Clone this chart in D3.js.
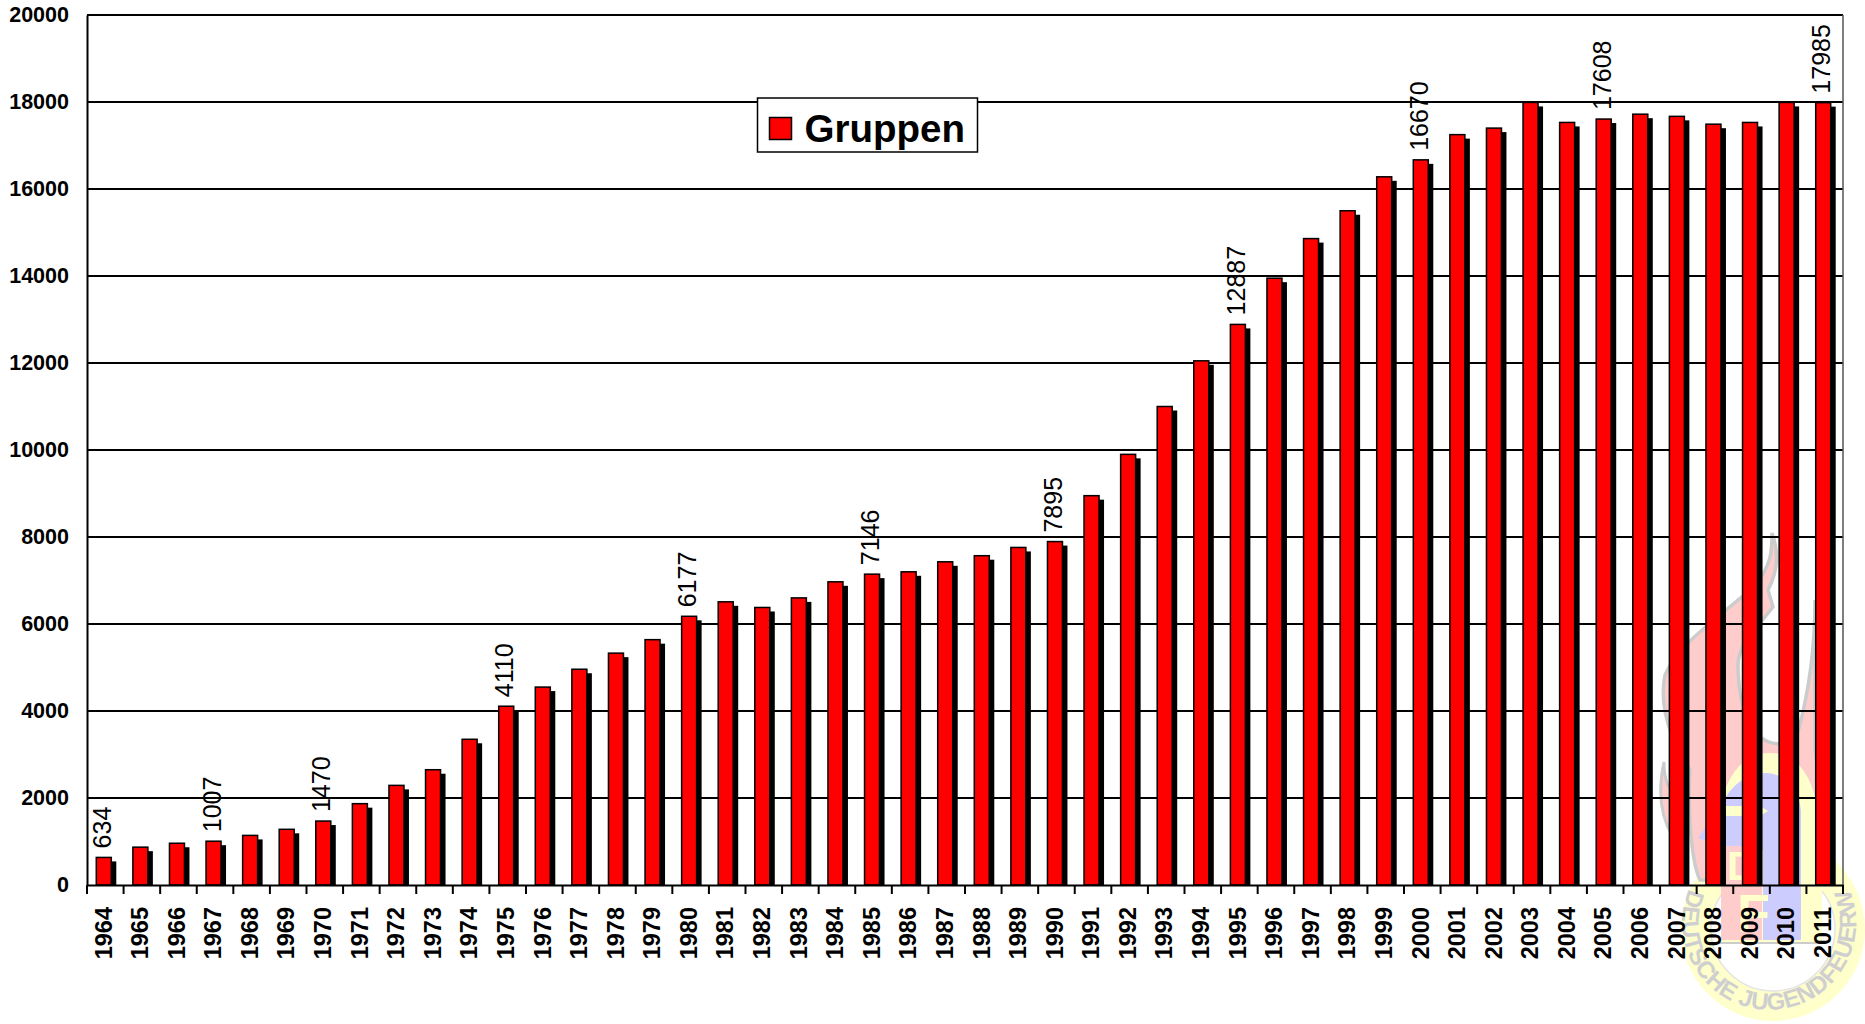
<!DOCTYPE html>
<html>
<head>
<meta charset="utf-8">
<script src="https://cdnjs.cloudflare.com/ajax/libs/d3/7.8.5/d3.min.js"></script>
<style>
  html, body { margin: 0; padding: 0; background: #fff; }
  svg { display: block; }
  text { font-family: "Liberation Sans", Arial, sans-serif; fill: #000; }
</style>
</head>
<body>
<div id="canvas"></div>
<script>
const years = [1964, 1965, 1966, 1967, 1968, 1969, 1970, 1971, 1972, 1973, 1974, 1975,
  1976, 1977, 1978, 1979, 1980, 1981, 1982, 1983, 1984, 1985, 1986, 1987,
  1988, 1989, 1990, 1991, 1992, 1993, 1994, 1995, 1996, 1997, 1998, 1999,
  2000, 2001, 2002, 2003, 2004, 2005, 2006, 2007, 2008, 2009, 2010, 2011];
const gruppen = [634, 870, 960, 1007, 1140, 1280, 1470, 1870, 2290, 2650, 3350, 4110,
  4550, 4960, 5330, 5640, 6177, 6510, 6380, 6600, 6970, 7146, 7200, 7430,
  7570, 7760, 7895, 8950, 9900, 11000, 12050, 12887, 13950, 14860, 15500, 16280,
  16670, 17250, 17400, 17990, 17530, 17608, 17720, 17670, 17490, 17530, 17990, 17985];
const labelledYears = [1964, 1967, 1970, 1975, 1980, 1985, 1990, 1995, 2000, 2005, 2011];
const yTicks = [0, 2000, 4000, 6000, 8000, 10000, 12000, 14000, 16000, 18000, 20000];

let margin = { top: 15, right: 22, bottom: 139, left: 87 },
  width = 1865 - margin.left - margin.right,
  height = 1024 - margin.top - margin.bottom;

let root = d3.select("#canvas").append("svg")
  .attr("width", 1865)
  .attr("height", 1024);

// Watermark sits behind everything, partly outside the plot
let mark = root.append("g").attr("class", "watermark");

// Ring with the lettering
mark.append("circle").attr("cx", 1773).attr("cy", 929).attr("r", 77)
  .attr("fill", "none").attr("stroke", "#ffffcc").attr("stroke-width", 30);
mark.append("circle").attr("cx", 1773).attr("cy", 929).attr("r", 62)
  .attr("fill", "none").attr("stroke", "#e4e4e4").attr("stroke-width", 1.5);
mark.append("path")
  .attr("id", "ring-text")
  .attr("fill", "none")
  .attr("d", "M1689 889 A87 87 0 1 0 1846 882");
mark.append("text")
  .style("font-size", "24px")
  .style("font-weight", "bold")
  .style("fill", "#cfcfcf")
  .append("textPath")
  .attr("href", "#ring-text")
  .text("DEUTSCHE JUGENDFEUERWEHR");

// Flame
mark.append("path")
  .attr("d", "M1772 533 C1780 555 1776 575 1768 590 L1773 607 C1755 630 1738 645 1738 665 C1738 695 1745 720 1758 735 C1770 747 1790 747 1798 732 C1808 695 1815 650 1815 600 L1815 750 L1822 800 L1800 880 L1700 880 C1690 860 1688 800 1690 770 L1672 735 C1664 715 1661 695 1665 675 C1680 640 1730 610 1755 585 C1772 565 1772 550 1772 533 Z")
  .attr("fill", "#ffcccc")
  .attr("stroke", "#cccccc")
  .attr("stroke-width", 3.5);
mark.append("path")
  .attr("d", "M1664 762 C1658 790 1660 815 1672 835 L1672 790 C1666 785 1664 775 1664 762 Z")
  .attr("fill", "#ffcccc")
  .attr("stroke", "#cccccc")
  .attr("stroke-width", 3);

// Shield
mark.append("path")
  .attr("d", "M1715 860 C1715 790 1735 753 1770 753 C1805 753 1822 790 1822 860 L1822 942 L1721 942 L1721 860 Z")
  .attr("fill", "#ffffcc");
mark.append("path")
  .attr("d", "M1722 805 C1730 785 1748 773 1765 773 C1782 773 1798 785 1801 810 L1801 940 L1763 940 L1763 850 L1721 846 L1698 838 Z")
  .attr("fill", "#ccccff");
mark.append("rect").attr("x", 1721).attr("y", 846).attr("width", 41).attr("height", 94)
  .attr("fill", "#ffcccc");
mark.append("line").attr("x1", 1720).attr("x2", 1823).attr("y1", 943).attr("y2", 943)
  .attr("stroke", "#cccccc").attr("stroke-width", 2);
mark.append("path")
  .attr("d", "M1725 806 L1760 806 L1768 811 L1760 816 L1725 816 Z")
  .attr("fill", "#ffffcc");
mark.append("text")
  .attr("x", 1727).attr("y", 880)
  .style("font-size", "40px").style("font-weight", "bold").style("fill", "#ffffcc")
  .text("D");
mark.append("text")
  .attr("x", 1737).attr("y", 932)
  .style("font-size", "54px").style("font-weight", "bold").style("fill", "#ffffcc")
  .text("F");

let svg = root.append("g")
  .attr("transform", "translate(" + margin.left + "," + margin.top + ")");

let xScale = d3.scaleBand().domain(years).range([0, width]);
let yScale = d3.scaleLinear().domain([0, 20000]).range([height, 0]);

// Grid lines
svg.selectAll(".grid-line")
  .data(yTicks.filter(d => d > 0))
  .enter()
  .append("line")
  .attr("class", "grid-line")
  .attr("x1", 0)
  .attr("x2", width)
  .attr("y1", d => yScale(d))
  .attr("y2", d => yScale(d))
  .attr("stroke", "#000")
  .attr("stroke-width", 2);

// Right edge of the plot
svg.append("line")
  .attr("x1", width).attr("x2", width)
  .attr("y1", 0).attr("y2", height)
  .attr("stroke", "#555").attr("stroke-width", 1.5);

let bars = svg.selectAll(".bar")
  .data(years.map((y, i) => ({ year: y, value: gruppen[i] })))
  .enter()
  .append("g")
  .attr("class", "bar")
  .attr("transform", d => "translate(" + xScale(d.year) + ",0)");

let barLeft = xScale.step() / 2 - 9;
let barWidth = 15;

// Drop shadow of each bar
bars.append("rect")
  .attr("x", barLeft + 5)
  .attr("y", d => yScale(d.value) + 4)
  .attr("width", barWidth)
  .attr("height", d => height - yScale(d.value) - 4)
  .attr("fill", "#000");

bars.append("rect")
  .attr("x", barLeft)
  .attr("y", d => yScale(d.value))
  .attr("width", barWidth)
  .attr("height", d => height - yScale(d.value))
  .attr("fill", "#f00")
  .attr("stroke", "#000")
  .attr("stroke-width", 1.5);

// Value labels, only on some years
bars.filter(d => labelledYears.includes(d.year))
  .append("text")
  .attr("transform", d => "translate(" + (barLeft + barWidth / 2 + 7) + "," + (yScale(d.value) - 9) + ") rotate(-90)")
  .style("font-size", "25px")
  .text(d => d.value);

// Axes
let yAxis = svg.append("g")
  .call(d3.axisLeft(yScale).tickValues(yTicks).tickSize(0).tickPadding(18).tickFormat(d => d));
yAxis.select(".domain").attr("stroke", "#000").attr("stroke-width", 2);
yAxis.selectAll("text")
  .style("font-size", "21.5px")
  .style("font-weight", "bold");

let xAxis = svg.append("g")
  .attr("transform", "translate(0," + height + ")")
  .call(d3.axisBottom(xScale).tickSize(0).tickFormat(d => d));
xAxis.select(".domain").attr("stroke", "#000").attr("stroke-width", 2);
xAxis.selectAll("text")
  .attr("transform", "rotate(-90)")
  .attr("x", -22)
  .attr("y", -2)
  .attr("dy", ".35em")
  .style("text-anchor", "end")
  .style("font-size", "23.5px")
  .style("font-weight", "bold");

// Tick marks sit between the years
xAxis.selectAll(".tick-mark")
  .data(d3.range(years.length + 1))
  .enter()
  .append("line")
  .attr("class", "tick-mark")
  .attr("x1", d => d * xScale.step())
  .attr("x2", d => d * xScale.step())
  .attr("y1", 0)
  .attr("y2", 9)
  .attr("stroke", "#000")
  .attr("stroke-width", 2);

// Legend
let legend = root.append("g").attr("transform", "translate(757.5,98)");
legend.append("rect")
  .attr("width", 220).attr("height", 54)
  .attr("fill", "#fff").attr("stroke", "#000").attr("stroke-width", 1.5);
legend.append("rect")
  .attr("x", 12).attr("y", 19.5).attr("width", 22).attr("height", 22)
  .attr("fill", "#f00").attr("stroke", "#000").attr("stroke-width", 1.5);
legend.append("text")
  .attr("x", 47).attr("y", 44)
  .style("font-size", "38.5px")
  .style("font-weight", "bold")
  .text("Gruppen");
</script>
</body>
</html>
